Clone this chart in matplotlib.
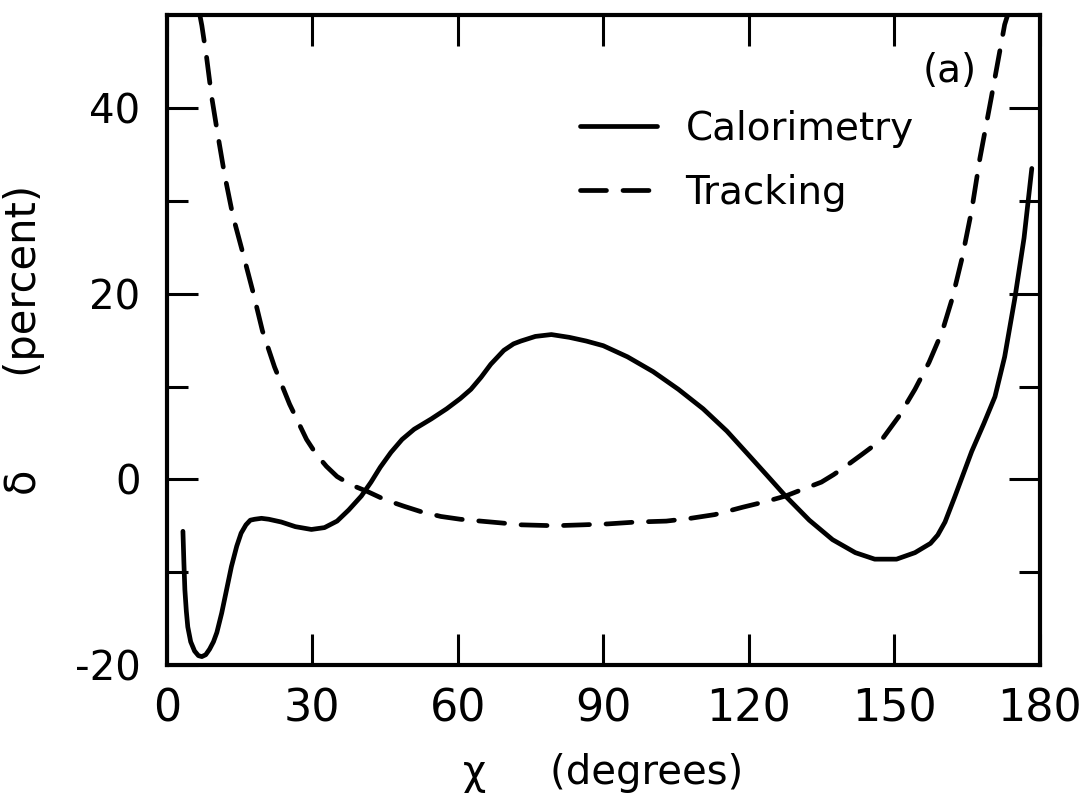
import numpy as np
import matplotlib
matplotlib.use("Agg")
import matplotlib.pyplot as plt

# values
cal_x = [3.3, 3.5, 3.7, 4.0, 4.3, 4.9, 5.7, 6.5, 7.2, 8.0, 8.8, 9.6, 10.3, 11.3,
         12.3, 13.3, 14.4, 15.3, 16.3, 17.2, 18.1, 19.5, 21.0, 23.6, 26.5, 29.8,
         32.5, 35.1, 37.5, 40.1, 42.1, 44.0, 46.2, 48.5, 51.0, 54.5, 57.7, 60.5,
         62.7, 64.8, 66.8, 69.5, 71.5, 73.0, 76.0, 79.3, 83.0, 86.5, 90.0, 95.0,
         100.3, 105.5, 110.6, 115.5, 120.2, 124.0, 127.6, 132.5, 137.3, 142.0,
         146.0, 150.5, 154.3, 157.5, 159.0, 160.5, 162.5, 164.5, 166.0, 168.5,
         170.8, 172.8, 174.9, 176.8, 178.4]
cal_y = [-5.6, -9.0, -11.9, -14.2, -15.9, -17.5, -18.5, -19.0, -19.1, -18.9, -18.3,
         -17.5, -16.5, -14.4, -11.9, -9.4, -7.2, -5.8, -4.9, -4.4, -4.3, -4.2,
         -4.3, -4.6, -5.1, -5.4, -5.2, -4.5, -3.3, -1.8, -0.3, 1.3, 2.9, 4.3, 5.4,
         6.5, 7.6, 8.7, 9.7, 11.0, 12.4, 13.9, 14.6, 14.9, 15.4, 15.6, 15.3, 14.9,
         14.4, 13.2, 11.6, 9.7, 7.6, 5.2, 2.5, 0.3, -1.8, -4.4, -6.5, -7.9, -8.6,
         -8.6, -7.9, -6.9, -6.0, -4.6, -1.9, 0.9, 3.0, 6.0, 8.9, 13.2, 19.5, 26.0,
         33.5]

trk_x = [6.8, 7.2, 8.2, 9.2, 10.5, 11.9, 13.6, 15.6, 17.7, 19.7, 22.2, 25.3, 28.8,
         30.8, 32.9, 35.1, 38.0, 41.3, 45.0, 48.9, 52.5, 56.5, 60.5, 64.7, 69.0,
         73.0, 80.0, 85.9, 91.0, 96.8, 103.0, 108.0, 113.0, 118.8, 123.5, 127.6,
         131.5, 135.0, 137.5, 140.0, 143.4, 147.5, 151.0, 154.3, 157.2, 159.9,
         162.0, 164.0, 166.0, 167.7, 170.0, 172.8, 173.4]
trk_y = [50.0, 48.9, 45.4, 41.3, 37.1, 32.8, 28.4, 24.5, 20.3, 16.0, 12.1, 8.1, 4.3,
         2.7, 1.4, 0.3, -0.6, -1.3, -2.2, -2.9, -3.5, -4.0, -4.3, -4.5, -4.7, -4.9,
         -5.0, -4.9, -4.8, -4.6, -4.5, -4.2, -3.8, -3.0, -2.4, -1.8, -1.0, -0.3,
         0.5, 1.4, 2.7, 4.3, 6.8, 9.7, 12.6, 15.9, 19.5, 23.8, 29.0, 34.6, 41.0,
         49.0, 50.0]

x_ticks = [0, 30, 60, 90, 120, 150, 180]
y_ticks = [-20, 0, 20, 40]
y_minor = [-10, 10, 30]

plt.rcParams['font.family'] = ['DejaVu Sans']
plt.rcParams['axes.unicode_minus'] = False

fig = plt.figure(figsize=(10.84, 8.06), dpi=100)
ax = fig.add_axes([0.154, 0.175, 0.805, 0.806])

ax.plot(cal_x, cal_y, color='black', lw=3.4, solid_capstyle='round',
        solid_joinstyle='round', label='Calorimetry')
ax.plot(trk_x, trk_y, color='black', lw=3.4, linestyle=(0, (5.5, 3.5)),
        dash_capstyle='round', label='Tracking')

ax.set_xlim(1, 180)
ax.set_ylim(-20, 50)
ax.set_xticks(x_ticks)
ax.set_yticks(y_ticks)
ax.set_yticks(y_minor, minor=True)

for s in ax.spines.values():
    s.set_linewidth(3)

ax.tick_params(which='both', direction='in', top=True, right=True, width=2.2)
ax.tick_params(which='major', length=22)
ax.tick_params(which='minor', length=15)
ax.tick_params(axis='x', labelsize=32, pad=16)
ax.tick_params(axis='y', labelsize=29, pad=19)

ax.set_xlabel(u'\u03c7     (degrees)', fontsize=29)
ax.xaxis.set_label_coords(0.5, -0.135)
ax.set_ylabel(u'\u03b4       (percent)', fontsize=30)
ax.yaxis.set_label_coords(-0.14, 0.5)

ax.legend(loc='upper left', bbox_to_anchor=(0.473, 0.855), frameon=False,
          fontsize=28, handlelength=2.0, handletextpad=0.72, labelspacing=0.68,
          borderpad=0, borderaxespad=0)
ax.text(0.897, 0.915, '(a)', transform=ax.transAxes, fontsize=28,
        ha='center', va='center')

plt.savefig('out.png', dpi=100)
